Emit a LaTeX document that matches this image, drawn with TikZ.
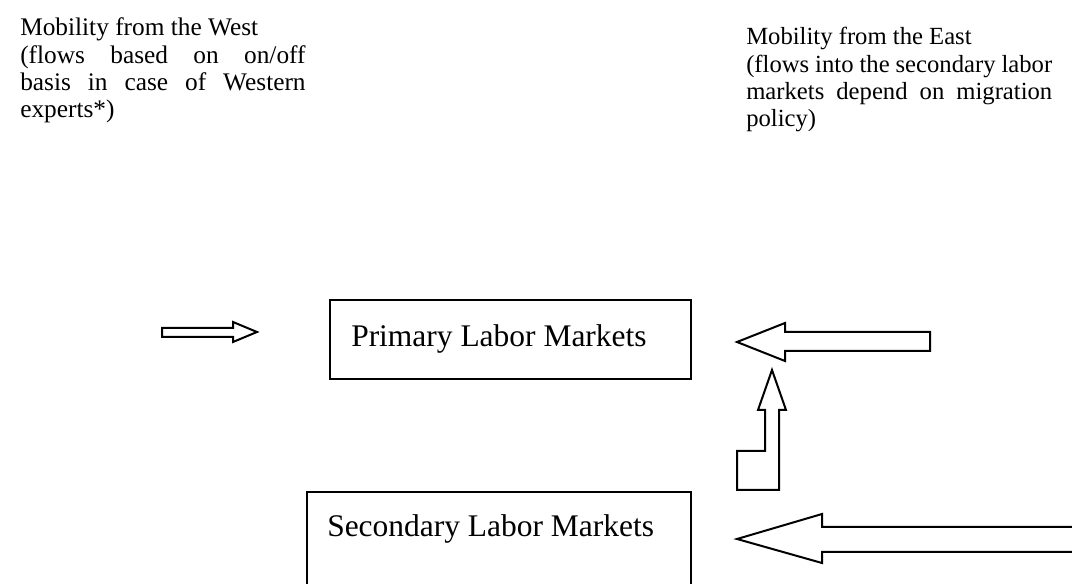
\documentclass[tikz,border=0pt]{standalone}
\usepackage{fontspec}
\setmainfont{Liberation Serif}
\usetikzlibrary{positioning}

\begin{document}
\begin{tikzpicture}[x=0.75pt, y=-0.75pt, line join=miter,
    outline/.style={draw, line width=1.5pt},
    market/.style={outline, inner sep=0pt, anchor=north west},
    words/.style={inner sep=0pt, anchor=base west, font=\fontsize{23.6}{27.4}\selectfont},
    column/.style={inner sep=0pt, anchor=base west, font=\fontsize{19}{20.5}\selectfont, text width=#1, align=justify}]
  \useasboundingbox (0,0) rectangle (1072,584);
  \clip (0,0) rectangle (1072,584);

  % headings
  \node[column=214pt] (west) at (20,36) {Mobility from the West\\(flows based on on/off\linebreak basis in case of Western\linebreak experts*)};
  \node[column=229.5pt, font=\fontsize{18.5}{20.5}\selectfont] (east) at (746,45) {Mobility from the East\\(flows into the secondary labor\linebreak markets depend on migration\linebreak policy)};

  % markets
  \node[market, minimum width=270.75pt, minimum height=59.25pt] (primary) at (329,299) {};
  \node[words] (primarytext) at ([shift={(22,48)}]primary.north west) {Primary Labor Markets};
  \node[market, minimum width=288pt, minimum height=90pt] (secondary) at (306,491) {};
  \node[words] (secondarytext) at ([shift={(21,46)}]secondary.north west) {Secondary Labor Markets};

  % flows
  \draw[outline] (162,328) -- (233,328) -- (233,322) -- (257,332) -- (233,342) -- (233,337) -- (162,337) -- cycle;
  \draw[outline] (737,342) -- (785,323) -- (785,332) -- (930,332) -- (930,351) -- (785,351) -- (785,361) -- cycle;
  \draw[outline] (772,370) -- (786,410) -- (779,410) -- (779,490) -- (737,490) -- (737,451) -- (765,451) -- (765,410) -- (758,410) -- cycle;
  \draw[outline] (737,539) -- (822,514) -- (822,527) -- (1090,527) -- (1090,552) -- (822,552) -- (822,563) -- cycle;
\end{tikzpicture}
\end{document}
